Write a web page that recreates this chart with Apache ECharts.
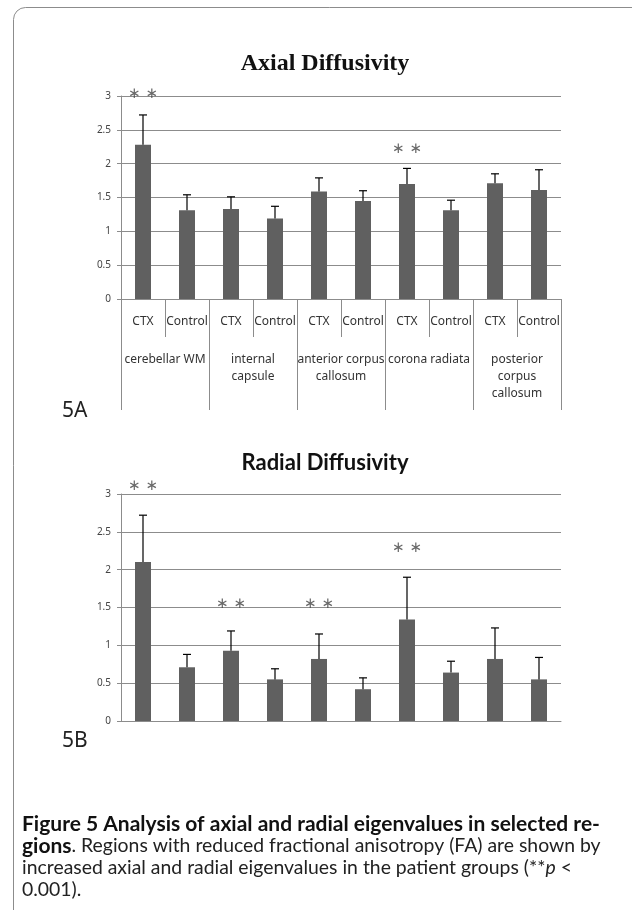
<!DOCTYPE html>
<html>
<head>
<meta charset="utf-8">
<script src="https://cdn.jsdelivr.net/npm/echarts@6/dist/echarts.min.js"></script>
<style>
  html, body { margin: 0; padding: 0; background: #fff; }
  #fig { width: 632px; height: 910px; }
</style>
</head>
<body>
<div id="fig"></div>
<script>
// categories
var groups = ['CTX', 'Control', 'CTX', 'Control', 'CTX', 'Control', 'CTX', 'Control', 'CTX', 'Control'];
var regions = ['cerebellar WM', 'internal\ncapsule', 'anterior corpus\ncallosum', 'corona radiata', 'posterior\ncorpus\ncallosum'];
var yTicks = [0, 0.5, 1, 1.5, 2, 2.5, 3];

// 5A axial diffusivity (mean, upper error)
var axialMean = [2.28, 1.31, 1.33, 1.19, 1.59, 1.45, 1.70, 1.31, 1.71, 1.61];
var axialErr  = [0.44, 0.23, 0.18, 0.18, 0.20, 0.15, 0.23, 0.15, 0.14, 0.30];
var axialStars = [[0, 3.03], [6, 2.22]];

// 5B radial diffusivity
var radialMean = [2.10, 0.71, 0.93, 0.55, 0.82, 0.42, 1.34, 0.64, 0.82, 0.55];
var radialErr  = [0.62, 0.17, 0.26, 0.14, 0.33, 0.15, 0.56, 0.15, 0.41, 0.29];
var radialStars = [[0, 3.10], [2, 1.55], [4, 1.55], [6, 2.28]];

var gray = '#8c8c8c';
var barColor = '#606060';

function errData(mean, err) {
    return mean.map(function (m, i) { return [i, m, err[i]]; });
}

function errRender(params, api) {
    var base = api.coord([api.value(0), api.value(1)]);
    var top = api.coord([api.value(0), api.value(1) + api.value(2)]);
    var st = {stroke: '#000', lineWidth: 1.2};
    return {
        type: 'group',
        children: [
            {type: 'line', shape: {x1: base[0], y1: base[1], x2: top[0], y2: top[1]}, style: st},
            {type: 'line', shape: {x1: top[0] - 4, y1: top[1], x2: top[0] + 4, y2: top[1]}, style: st}
        ]
    };
}

function yAxisOf(gi) {
    return {
        type: 'value', gridIndex: gi, min: 0, max: 3, interval: 0.5,
        axisLine: {show: true, lineStyle: {color: gray}},
        axisTick: {show: true, length: 4, lineStyle: {color: gray}},
        axisLabel: {margin: 10, color: '#444', fontSize: 10, fontFamily: 'Noto Sans',
            formatter: function (v) { return yTicks.indexOf(v) >= 0 ? String(v) : ''; }},
        splitLine: {lineStyle: {color: gray}}
    };
}

var chart = echarts.init(document.getElementById('fig'));

chart.setOption({
    animation: false,
    title: [
        {text: 'Axial Diffusivity', left: 325, top: 52, textAlign: 'center', padding: 0,
            textStyle: {fontFamily: 'Liberation Serif', fontWeight: 'bold', fontSize: 24, color: '#111'}},
        {text: 'Radial Diffusivity', left: 325, top: 452, textAlign: 'center', padding: 0,
            textStyle: {fontFamily: 'Lato', fontWeight: 'bold', fontSize: 22, color: '#111'}}
    ],
    grid: [
        {left: 121, top: 96, width: 440, height: 203},
        {left: 121, top: 494, width: 440, height: 227}
    ],
    xAxis: [
        {
            type: 'category', gridIndex: 0, data: groups,
            axisLine: {show: true, lineStyle: {color: gray}},
            axisTick: {show: true, length: 38, interval: 0, lineStyle: {color: gray}},
            axisLabel: {interval: 0, margin: 17, color: '#333', fontSize: 12, fontFamily: 'Noto Sans'}
        },
        {
            type: 'category', gridIndex: 0, data: regions, position: 'bottom',
            axisLine: {show: false},
            axisTick: {show: true, length: 111, interval: 0, lineStyle: {color: gray}},
            axisLabel: {interval: 0, margin: 52, color: '#333', fontSize: 12, lineHeight: 17, fontFamily: 'Noto Sans'}
        },
        {
            type: 'category', gridIndex: 1, data: groups,
            axisLine: {show: true, lineStyle: {color: gray}},
            axisTick: {show: false},
            axisLabel: {show: false}
        }
    ],
    yAxis: [yAxisOf(0), yAxisOf(1)],
    series: [
        {type: 'bar', xAxisIndex: 0, yAxisIndex: 0, data: axialMean, barWidth: 16, itemStyle: {color: barColor}},
        {type: 'custom', xAxisIndex: 0, yAxisIndex: 0, data: errData(axialMean, axialErr), renderItem: errRender, z: 3},
        {type: 'scatter', xAxisIndex: 0, yAxisIndex: 0, data: axialStars, symbolSize: 0, clip: false,
            label: {show: true, position: 'inside', formatter: '∗ ∗', fontSize: 15, color: '#444', fontFamily: 'DejaVu Sans'}},
        {type: 'bar', xAxisIndex: 2, yAxisIndex: 1, data: radialMean, barWidth: 16, itemStyle: {color: barColor}},
        {type: 'custom', xAxisIndex: 2, yAxisIndex: 1, data: errData(radialMean, radialErr), renderItem: errRender, z: 3},
        {type: 'scatter', xAxisIndex: 2, yAxisIndex: 1, data: radialStars, symbolSize: 0, clip: false,
            label: {show: true, position: 'inside', formatter: '∗ ∗', fontSize: 15, color: '#444', fontFamily: 'DejaVu Sans'}}
    ],
    graphic: [
        {type: 'rect', shape: {x: 13.5, y: 7.5, width: 700, height: 1000, r: 12}, silent: true,
            style: {fill: 'none', stroke: '#8c8c8c', lineWidth: 1}},
        {type: 'text', x: 62, y: 411, style: {text: '5A', fontSize: 21, fontFamily: 'Noto Sans', fill: '#222', verticalAlign: 'middle'}},
        {type: 'text', x: 62, y: 741, style: {text: '5B', fontSize: 21, fontFamily: 'Noto Sans', fill: '#222', verticalAlign: 'middle'}},
        {type: 'text', x: 22, y: 824, style: {text: 'Figure 5 Analysis of axial and radial eigenvalues in selected re-',
            fontSize: 21, fontWeight: 'bold', fontFamily: 'Lato', fill: '#111', verticalAlign: 'middle'}},
        {type: 'text', x: 22, y: 846, style: {
            text: '{b|gions}. Regions with reduced fractional anisotropy (FA) are shown by',
            fontSize: 19.4, fontFamily: 'Lato', fill: '#222', verticalAlign: 'middle',
            rich: {b: {fontSize: 21, fontWeight: 'bold', fontFamily: 'Lato', fill: '#111'}}}},
        {type: 'text', x: 22, y: 868, style: {
            text: 'increased axial and radial eigenvalues in the patient groups (**{i|p} <',
            fontSize: 19.4, fontFamily: 'Lato', fill: '#222', verticalAlign: 'middle',
            rich: {i: {fontSize: 19.4, fontStyle: 'italic', fontFamily: 'Lato', fill: '#222'}}}},
        {type: 'text', x: 22, y: 890, style: {text: '0.001).', fontSize: 19.4, fontFamily: 'Lato', fill: '#222', verticalAlign: 'middle'}}
    ]
});
</script>
</body>
</html>
